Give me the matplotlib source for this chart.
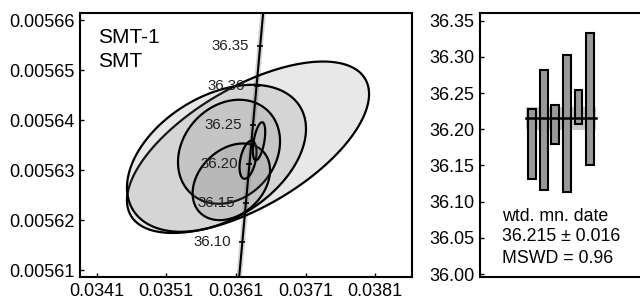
import numpy as np
import matplotlib
matplotlib.use("Agg")
import matplotlib.pyplot as plt

plt.rcParams['font.family'] = ['Liberation Sans', 'DejaVu Sans']

# elipses de error (centro, semi-eje 2s, correlacion)
ell_x = [0.036274, 0.035821, 0.036001, 0.036034, 0.036274, 0.036432]
ell_sx = [0.001739, 0.001286, 0.000733, 0.000556, 0.000122, 0.000089]
ell_y = [0.0056346, 0.0056324, 0.0056337, 0.0056277, 0.0056321, 0.0056358]
ell_sy = [1.711e-5, 1.467e-5, 1.038e-5, 0.765e-5, 0.379e-5, 0.379e-5]
ell_rho = [0.62, 0.40, 0.20, 0.30, 0.40, 0.50]

# edades de las marcas sobre la concordia (Ma)
edades_ticks = [36.10, 36.15, 36.20, 36.25, 36.30, 36.35]
lam238 = 1.55125e-4
lam235 = 9.8485e-4

# barras de edad
bar_lo = [36.131, 36.116, 36.180, 36.113, 36.207, 36.150]
bar_hi = [36.228, 36.282, 36.234, 36.303, 36.254, 36.333]
media = 36.215
media_err = 0.016

xticks_izq = [0.0341, 0.0351, 0.0361, 0.0371, 0.0381]
yticks_izq = [0.00561, 0.00562, 0.00563, 0.00564, 0.00565, 0.00566]
yticks_der = [36.00, 36.05, 36.10, 36.15, 36.20, 36.25, 36.30, 36.35]

fig = plt.figure(figsize=(6.4, 3.02), dpi=100)

# * Panel izquierdo: concordia
ax = fig.add_axes([80/640, 25/302, 332/640, 264/302])
ax.set_xlim(0.03386, 0.03863)
ax.set_ylim(0.0056087, 0.0056614)

t = np.linspace(35.9, 36.5, 200)
cx = np.exp(lam235 * t) - 1
cy = np.exp(lam238 * t) - 1
ax.plot(cx, cy, color='#d4d4d4', lw=4, zorder=1, solid_capstyle='butt')

theta = np.linspace(0, 2 * np.pi, 300)
for x0, sx, y0, sy, r in zip(ell_x, ell_sx, ell_y, ell_sy, ell_rho):
    ex = x0 + sx * np.cos(theta)
    ey = y0 + sy * (r * np.cos(theta) + np.sqrt(1 - r**2) * np.sin(theta))
    ax.fill(ex, ey, facecolor=(0.5, 0.5, 0.5, 0.18), edgecolor='black', lw=1.6, zorder=2)

ax.plot(cx, cy, color='black', lw=1.5, zorder=3)

tx = [np.exp(lam235 * a) - 1 for a in edades_ticks]
ty = [np.exp(lam238 * a) - 1 for a in edades_ticks]
ax.plot(tx, ty, ls='none', marker='_', ms=5, mew=1.2, color='black', zorder=4)
for a, x, y in zip(edades_ticks, tx, ty):
    ax.annotate(f"{a:.2f}", (x, y), xytext=(-8, 0), textcoords='offset points',
                ha='right', va='center', fontsize=10.8, color='#222222', zorder=5)

ax.text(0.054, 0.906, "SMT-1", transform=ax.transAxes, fontsize=15, va='center')
ax.text(0.054, 0.815, "SMT", transform=ax.transAxes, fontsize=15, va='center')

ax.set_xticks(xticks_izq)
ax.set_xticklabels([f"{v:.4f}" for v in xticks_izq])
ax.set_yticks(yticks_izq)
ax.set_yticklabels([f"{v:.5f}" for v in yticks_izq])
ax.tick_params(direction='in', length=3, width=1, labelsize=13, pad=4)
for s in ax.spines.values():
    s.set_linewidth(1.5)

# * Panel derecho: media ponderada
ax2 = fig.add_axes([480/640, 25/302, 180/640, 264/302])
ax2.set_xlim(-3.53, 12.06)
ax2.set_ylim(35.996, 36.3606)

ax2.fill_between([0.45, 6.52], media - media_err, media + media_err,
                 color='#c8c8c8', lw=0, zorder=1)
pos = np.arange(1, len(bar_lo) + 1)
alturas = np.array(bar_hi) - np.array(bar_lo)
ax2.bar(pos, alturas, bottom=bar_lo, width=0.69, color='#999999',
        edgecolor='black', lw=1.5, zorder=2)
ax2.plot([0.45, 6.52], [media, media], color='black', lw=1.8, zorder=3)

ax2.text(-1.62, 36.079, "wtd. mn. date", fontsize=12.8, va='center')
ax2.text(-1.62, 36.052, f"{media:.3f} ± {media_err:.3f}", fontsize=12.8, va='center')
ax2.text(-1.62, 36.022, "MSWD = 0.96", fontsize=12.8, va='center')

ax2.set_xticks([])
ax2.set_yticks(yticks_der)
ax2.set_yticklabels([f"{v:.2f}" for v in yticks_der])
ax2.tick_params(direction='in', length=3, width=1, labelsize=13, pad=4)
for s in ax2.spines.values():
    s.set_linewidth(1.5)

fig.savefig("out.png", dpi=100)
